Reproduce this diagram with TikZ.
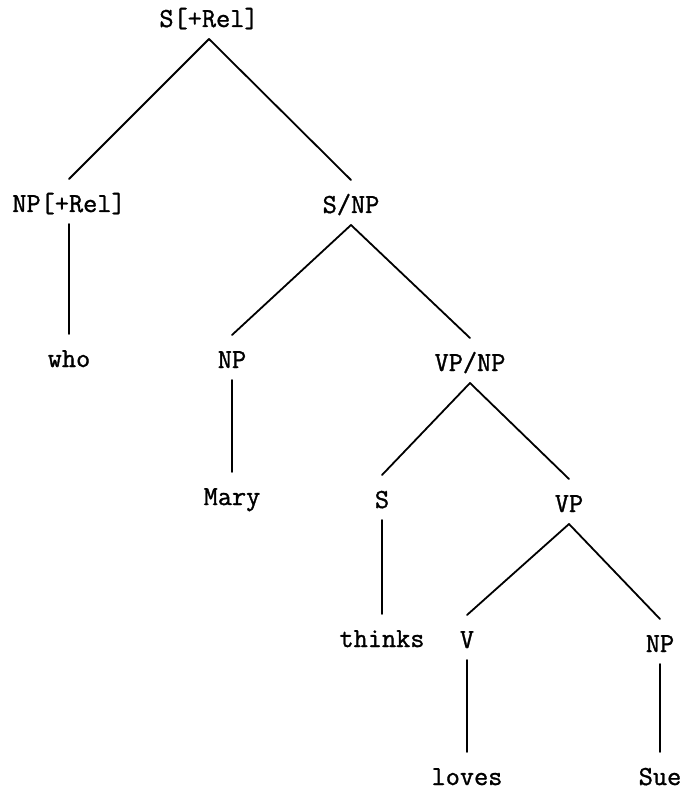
\documentclass[tikz,border=0pt]{standalone}
\usepackage{fontspec}
\newfontfamily\treefont{Latin Modern Mono}[FakeBold=1.2]
\begin{document}
\begin{tikzpicture}[x=1pt,y=1pt,
  lab/.style={anchor=base,inner sep=0pt,font=\treefont\fontsize{27.5}{30}\selectfont},
  branch/.style={line width=1.8pt,line cap=round}]
\useasboundingbox (0,0) rectangle (684,-799);
\node[lab] (srel)   at (209,-27)  {S[+Rel]};
\node[lab] (nprel)  at (69,-212)  {NP[+Rel]};
\node[lab] (snp)    at (351,-213) {S/NP};
\node[lab] (who)    at (69,-367)  {who};
\node[lab] (npa)    at (232,-368) {NP};
\node[lab] (vpnp)   at (470,-371) {VP/NP};
\node[lab] (mary)   at (232,-505) {Mary};
\node[lab] (s)      at (382,-508) {S};
\node[lab] (vp)     at (569,-512) {VP};
\node[lab] (thinks) at (382,-647) {thinks};
\node[lab] (v)      at (467,-648) {V};
\node[lab] (npb)    at (660,-652) {NP};
\node[lab] (loves)  at (467,-785) {loves};
\node[lab] (sue)    at (660,-785) {Sue};
\foreach \p/\c in {srel/nprel,srel/snp,nprel/who,snp/npa,snp/vpnp,npa/mary,vpnp/s,vpnp/vp,s/thinks,vp/v,vp/npb,v/loves,npb/sue}
  \draw[branch] ([yshift=-12pt]\p.base) -- ([yshift=33pt]\c.base);
\end{tikzpicture}
\end{document}
